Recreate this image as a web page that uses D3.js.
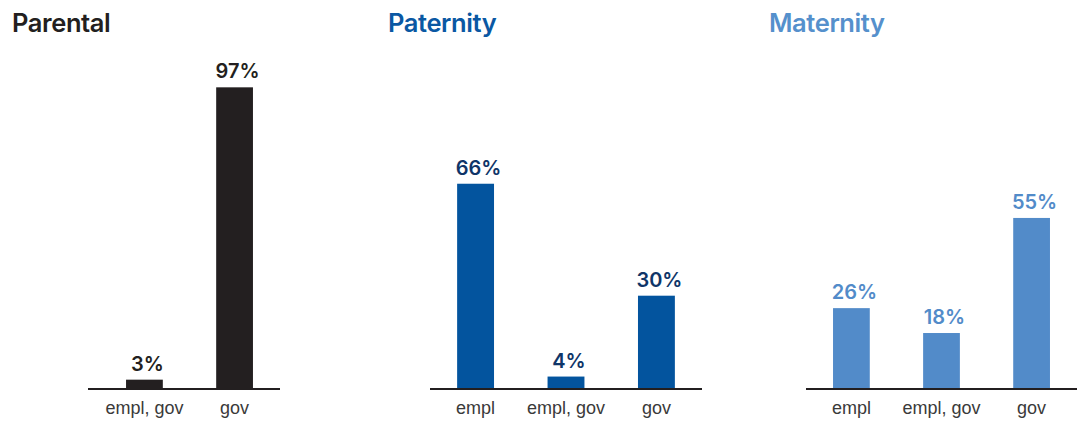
<!DOCTYPE html>
<html><head><meta charset="utf-8">
<script src="https://cdn.jsdelivr.net/npm/d3@7"></script>
<style>body{margin:0;background:#fff}svg{display:block}</style>
</head><body>
<svg id="c" width="1080" height="421"></svg>
<script>
const titles = ["Parental", "Paternity", "Maternity"];
const parentalCats = ["empl, gov", "gov"];
const parentalVals = [3, 97];
const paternityCats = ["empl", "empl, gov", "gov"];
const paternityVals = [66, 4, 30];
const maternityCats = ["empl", "empl, gov", "gov"];
const maternityVals = [26, 18, 55];

const panels = [
  {title: titles[0], cats: parentalCats, vals: parentalVals, bar: "#231f20", label: "#231f20", titleColor: "#231f20",
   tx: 12, axis: [88, 280], band: [99, 280]},
  {title: titles[1], cats: paternityCats, vals: paternityVals, bar: "#03549e", label: "#0f3568", titleColor: "#0a58a3",
   tx: 388, axis: [430, 702], band: [430, 702]},
  {title: titles[2], cats: maternityCats, vals: maternityVals, bar: "#528bc9", label: "#528bc9", titleColor: "#5590cc",
   tx: 769, axis: [806, 1077], band: [806, 1077]}
];

const svg = d3.select("#c");
const baseY = 389;
const y = d3.scaleLinear().domain([0, 100]).range([baseY, baseY - 311]);
const headFont = "Inter, Roboto, 'Liberation Sans', Arial, sans-serif";

panels.forEach(p => {
  const g = svg.append("g");
  g.append("text").attr("x", p.tx).attr("y", 32).text(p.title)
    .attr("font-family", headFont)
    .attr("font-weight", 600).attr("font-size", 25.5).attr("letter-spacing", -0.4).attr("fill", p.titleColor);

  const x = d3.scaleBand().domain(p.cats).range(p.band).paddingInner(0.592).paddingOuter(0.3);

  g.selectAll("rect").data(p.vals).join("rect")
    .attr("x", (d, i) => x(p.cats[i]))
    .attr("width", x.bandwidth())
    .attr("y", d => y(d))
    .attr("height", d => baseY - y(d))
    .attr("fill", p.bar);

  g.selectAll("text.val").data(p.vals).join("text").attr("class", "val")
    .attr("x", (d, i) => x(p.cats[i]) + x.bandwidth() / 2 + 3)
    .attr("y", d => y(d) - 9)
    .attr("text-anchor", "middle")
    .attr("font-family", headFont)
    .attr("font-weight", 600).attr("font-size", 20).attr("fill", p.label)
    .text(d => d + "%");

  g.append("line").attr("x1", p.axis[0]).attr("x2", p.axis[1])
    .attr("y1", baseY).attr("y2", baseY)
    .attr("stroke", "#231f20").attr("stroke-width", 2.2);

  g.selectAll("text.cat").data(p.cats).join("text").attr("class", "cat")
    .attr("x", d => x(d) + x.bandwidth() / 2)
    .attr("y", 414)
    .attr("text-anchor", "middle")
    .attr("font-family", "'Liberation Sans', Arial, sans-serif")
    .attr("font-size", 18).attr("fill", "#3a3a3a")
    .text(d => d);
});
</script>
</body></html>
